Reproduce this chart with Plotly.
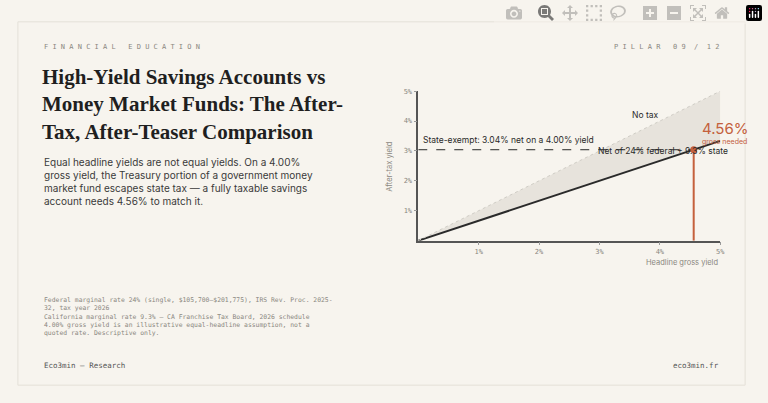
import plotly.graph_objects as go

gross = [0, 5]
no_tax = [0, 5]
fed_rate = 0.24
state_rate = 0.093
net = [g * (1 - fed_rate - state_rate) for g in gross]
break_even_gross = 4.56
state_exempt_net = 3.04
x_ticks = [1, 2, 3, 4, 5]
x_tick_labels = ["1%", "2%", "3%", "4%", "5%"]
y_ticks = [1, 2, 3, 4, 5]
y_tick_labels = ["1%", "2%", "3%", "4%", "5%"]

BG = "#f7f4ee"
INK = "#2a2a2a"
MUTED = "#8a8780"
ORANGE = "#c4603c"

fig = go.Figure()
fig.add_trace(go.Scatter(x=gross, y=net, mode="lines", line=dict(color=INK, width=2), hoverinfo="skip"))
fig.add_trace(go.Scatter(x=gross, y=no_tax, mode="lines", fill="tonexty", fillcolor="rgba(200,195,185,0.35)",
                         line=dict(color="#cfccc5", width=1, dash="dot"), hoverinfo="skip"))
fig.add_trace(go.Scatter(x=[0, break_even_gross], y=[state_exempt_net, state_exempt_net], mode="lines",
                         line=dict(color=INK, width=1, dash="dash"), hoverinfo="skip"))
fig.add_trace(go.Scatter(x=[break_even_gross, break_even_gross], y=[0, state_exempt_net], mode="lines",
                         line=dict(color=ORANGE, width=2), hoverinfo="skip"))
fig.add_trace(go.Scatter(x=[break_even_gross], y=[state_exempt_net], mode="markers",
                         marker=dict(color=ORANGE, size=7), hoverinfo="skip"))

W, H = 768, 403
def px(x): return x / W
def py(y): return 1 - y / H

fig.update_layout(
    width=W, height=H, margin=dict(l=0, r=0, t=0, b=0),
    paper_bgcolor=BG, plot_bgcolor=BG, showlegend=False,
    xaxis=dict(domain=[px(421), px(725)], range=[0, 5], tickvals=x_ticks, ticktext=x_tick_labels,
               showgrid=False, zeroline=False, showline=True, linecolor="#555", linewidth=1.5,
               ticks="outside", ticklen=3, tickcolor="#999",
               tickfont=dict(family="DejaVu Sans Mono", size=7, color=MUTED)),
    yaxis=dict(domain=[py(239), py(88)], range=[0, 5], tickvals=y_ticks, ticktext=y_tick_labels,
               showgrid=False, zeroline=False, showline=True, linecolor="#555", linewidth=1.5,
               ticks="outside", ticklen=3, tickcolor="#999",
               tickfont=dict(family="DejaVu Sans Mono", size=7, color=MUTED)),
    font=dict(family="Inter", color=INK),
)

shapes = [dict(type="rect", xref="paper", yref="paper", x0=px(18), x1=px(750), y0=py(385), y1=py(18),
               line=dict(color="#e4e0d8", width=1), fillcolor="rgba(0,0,0,0)", layer="below")]
fig.update_layout(shapes=shapes)

def ann(text, x, y, size, color=INK, family="Inter", xanchor="left", yanchor="middle", ref="paper", **kw):
    if ref == "paper":
        fig.add_annotation(text=text, x=px(x), y=py(y), xref="paper", yref="paper", showarrow=False,
                           xanchor=xanchor, yanchor=yanchor, align=kw.pop("align", "left"),
                           font=dict(size=size, color=color, family=family), **kw)
    else:
        fig.add_annotation(text=text, x=x, y=y, xref="x", yref="y", showarrow=False,
                           xanchor=xanchor, yanchor=yanchor, font=dict(size=size, color=color, family=family), **kw)

mono = "DejaVu Sans Mono"
ann("F I N A N C I A L   E D U C A T I O N", 42, 43, 7, MUTED, mono)
ann("P I L L A R   0 9  /  1 2", 726, 43, 7, MUTED, mono, xanchor="right")
fig.add_annotation(text="<b>High-Yield Savings Accounts vs<br>Money Market Funds: The After-<br>Tax, After-Teaser Comparison</b>",
                   x=px(40), y=py(102), xref="paper", yref="paper", showarrow=False, xanchor="left", yanchor="middle",
                   align="left", font=dict(size=21, color="#1f1f1f", family="Liberation Serif"))
fig.add_annotation(text="Equal headline yields are not equal yields. On a 4.00%<br>gross yield, the Treasury portion of a government money<br>market fund escapes state tax — a fully taxable savings<br>account needs 4.56% to match it.",
                   x=px(42), y=py(179), xref="paper", yref="paper", showarrow=False, xanchor="left", yanchor="middle",
                   align="left", font=dict(size=10, color="#3a3a3a", family="Inter"))
fig.add_annotation(text="Federal marginal rate 24% (single, $105,700–$201,775), IRS Rev. Proc. 2025-<br>32, tax year 2026<br>California marginal rate 9.3% — CA Franchise Tax Board, 2026 schedule<br>4.00% gross yield is an illustrative equal-headline assumption, not a<br>quoted rate. Descriptive only.",
                   x=px(42), y=py(316), xref="paper", yref="paper", showarrow=False, xanchor="left", yanchor="middle",
                   align="left", font=dict(size=6.4, color=MUTED, family=mono))
ann("Eco3min — Research", 42, 365, 7.5, "#555", mono)
ann("eco3min.fr", 726, 365, 7.5, "#555", mono, xanchor="right")

ann("After-tax yield", 392, 164, 7.5, MUTED, "Inter", xanchor="center", textangle=-90)
ann("Headline gross yield", 725, 261, 7.5, MUTED, "Inter", xanchor="right")
ann("No tax", 3.5, 4.2, 8.5, INK, ref="data", xanchor="left")
ann("State-exempt: 3.04% net on a 4.00% yield", 0.05, 3.35, 8.5, INK, ref="data")
ann("Net of 24% federal + 9.3% state", 2.95, 3.0, 8.5, INK, ref="data")
ann("4.56%", 4.67, 3.75, 15, ORANGE, ref="data")
ann("gross needed", 4.67, 3.31, 7, ORANGE, ref="data")

fig.write_html("out.html")
with open("out.html", encoding="utf-8") as f:
    html = f.read()
html = html.replace("<body>", '<body style="margin:0;padding:0;overflow:hidden">', 1)
with open("out.html", "w", encoding="utf-8") as f:
    f.write(html)
